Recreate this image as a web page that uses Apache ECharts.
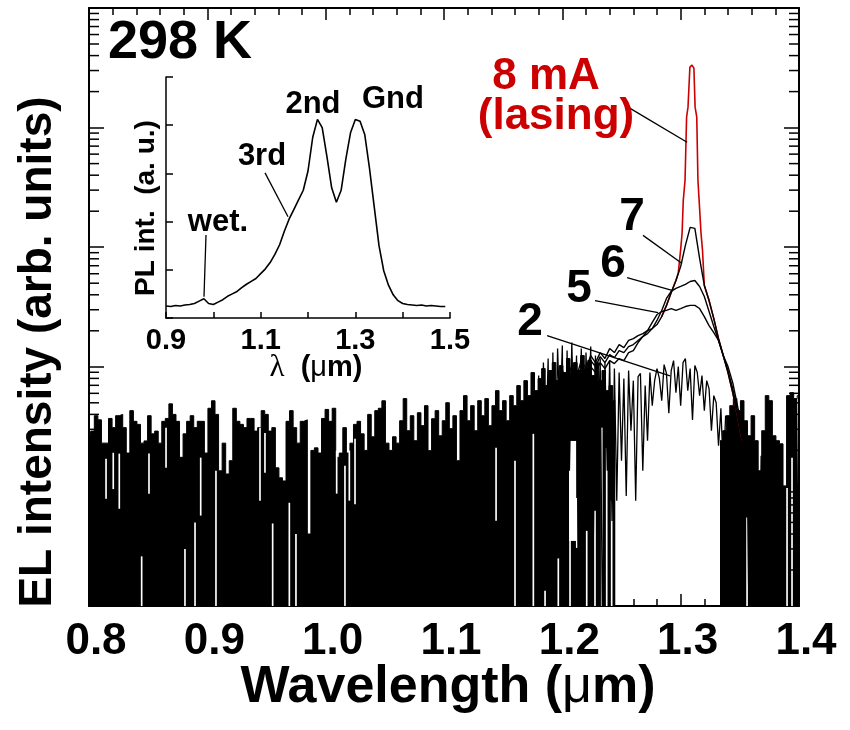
<!DOCTYPE html>
<html>
<head>
<meta charset="utf-8">
<script src="https://cdn.jsdelivr.net/npm/echarts@6/dist/echarts.min.js"></script>
<style>
html,body{margin:0;padding:0;background:#fff}
#chart{width:850px;height:730px}
</style>
</head>
<body>
<div id="chart"></div>
<script>
// ---- EL spectra, 298 K (log intensity, arb. units) ----
const xTicks = [0.8, 0.9, 1.0, 1.1, 1.2, 1.3, 1.4];

// detector noise floor shared by all drive currents (top of the noise band)
const floorStart = 0.800, floorStep = 0.003;
const floorLeft = [
  23,29,39,36,23,23,37,31,39,40,
  31,19,43,35,33,23,24,39,27.5,29,
  23,35,37,49,40,35,17.5,27.5,35,39,
  31,35,35,19,45,52,40,13.5,23,12.7,
  16.4,45,35,33,31,37,37,29,31,43,
  40,29,31,14.3,11.8,11.1,35,43,31,23,
  35,36,4,20,21,19,37,44,35,45,
  17.5,19,31,19,23,33,35,27.5,20,40,
  26,43,45,52,23,20,26,23,
  35.4,54.2,29.2,39,24.1,41.3,32.2,47.3,19.9,36.8,
  43,26.5,35.4,50.1,30.4,39,16.4,43,57.4,35.4,
  47.3,29.2,52.1,39,54.2,32.2,47.3,63.2,43,52.1,
  35.4,57.4,47.3,69.6,52.1,76.6,57.4,89.4,63.2,79.7,
  96.6,69.6,93,108.4,76.6,102.4,89.4,117.2,84.4,108.4,
  93,124.2,96.6,112.8,84.4,108.4,76.6,93,63.2,69.6,
  52.1
];
const floorRightStart = 1.334;
const floorRight = [
  24.1,29.2,39,47.3,54.2,43,52.1,35.4,26.5,39,
  24.1,13.5,29.2,57.4,52.1,26.5,24.1,22.7,10.1,57.4,
  60.8,54.2,57.4
];

// white gaps inside the noise band: centre wavelength, span (µm), lower and upper intensity
const slitWl   = [0.8144,0.8205,0.8256,0.8445,0.8507,0.8651,0.8811,0.8896,0.8944,0.9073,0.9445,0.9487,0.9552,0.9693,0.9749,1.0093,1.0163,1.0200,1.0248,1.1440,1.1600,1.1755,1.1854,1.1966,1.2065,1.2087,1.2122,1.2206,1.2276,1.2333,1.2375,1.2417,1.3561,1.3899,1.3941];
const slitSpan = [0.0014,0.0014,0.0014,0.0014,0.0014,0.0014,0.0014,0.0014,0.0014,0.0014,0.0014,0.0014,0.0014,0.0014,0.0014,0.0014,0.0014,0.0014,0.0014,0.0014,0.0014,0.0014,0.0014,0.0014,0.0014,0.0060,0.0014,0.0014,0.0014,0.0014,0.0014,0.0014,0.0014,0.0014,0.0014];
const slitLow  = [7.9,9.5,6.5,1,8.7,14.3,1,1,5.7,1,7.6,13,1,1,1,8.7,1,7.6,7.1,5.15,1,1,1,1,1,3.5,3.06,1,1,1,1,1,1,1,1];
const slitHigh = [17,19.1,18.8,2.6,18.8,31,3.0,5.0,17.4,13.5,31,28,4.9,7.3,4.0,19.9,14.9,19.9,25,21,16.4,27.5,1.34,2.5,14.3,24,8.0,4.25,6.25,31,21,7.6,5.5,9.7,17.4];

// 2 mA spectrum, 1.180 – 1.380 µm, 0.002 µm steps
const fineStart = 1.180, fineStep = 0.002;
const el2mA = [
  84.4,1.1,108.4,19.9,117.2,0.5,131.5,11.1,142,35.4,
  150.5,0.5,136.7,13.5,159.5,24.1,124.2,0.5,142,9.2,
  131.5,29.2,147.6,2.38,124.2,19.9,117.2,0.5,108.4,13.5,
  112.8,5.15,96.6,7.6,89.4,16.4,79.7,8.3,93,29.2,
  76.6,7.6,82.8,88,13.5,69.6,24.1,89.4,47.3,76.6,
  96.6,80,52.1,104.3,88,41,93,112.8,60.8,100.4,
  47.3,108.4,117.2,63.2,96.6,36,102.4,90,57.4,84.4,
  43,76.6,65.7,29.2,57.4,50.1,21.9,45,13.5,39,
  35.4,0.5,29.2,2.38,26.5,0.5,24.1,5.15,21.9,0.5,
  19.9,3.5,24.1,0.5,18,1.34,21.9,0.5,19.9,2.38,
  24.1
];

// 5, 6, 7 mA spectra, 1.180 – 1.380 µm, 0.004 µm steps
const curveStart = 1.180, curveStep = 0.004;
const el5mA = [
  43,57.4,47.3,65.7,54.2,73.8,60.8,82.8,68.3,89.4,
  79.7,100.4,89.4,108.4,96.6,112.8,106.4,117.2,112.8,131.5,
  136.7,159.5,179,201,235,273.6,290,296,307,296,
  307,319,326,326,307,263,221,193.3,166,124,
  100.4,73.8,47.3,29.2,19.1,13,8.8,6,4.1,2.8,
  1.9
];
const el6mA = [
  47.3,63.2,52.1,76.6,60.8,84.4,69.6,93,76.6,100.4,
  89.4,112.8,100.4,121.7,108.4,126.5,119.4,136.7,131.5,147.6,
  153.5,166,179,189.7,208.9,244,296,372.6,426.5,452,
  469.5,488,517,527,469,387,290,217,166,124,
  93,65.7,43,26.5,18,12.3,8.3,5.7,3.9,2.6,
  1.8
];
const el7mA = [
  52.1,69.6,57.4,84.4,68.3,93,76.6,102.4,82.8,112.8,
  96.6,124.2,108.4,131.5,117.2,142,131.5,153.5,144.8,166,
  172.2,182.5,189.7,201,208.9,225.6,263,326,418,527,
  690,1035,1465,1436,806,479,358,253,172,124,
  89.4,60.8,39,24.1,16.4,11.1,7.6,5.15,3.5,2.38,
  1.62
];
// lasing spectrum at 8 mA
const el8mAWl = [1.284,1.288,1.292,1.296,1.298,1.3000,1.3012,1.3022,1.3037,1.3050,1.3062,1.3078,1.3096,1.3112,1.3122,1.3136,1.3146,1.3156,1.3172,1.3184,1.320,1.324,1.328,1.332,1.336,1.340,1.344,1.348,1.352];
const el8mA   = [263,326,418,527,610,960,1306,2465,3625,12220,14830,32060,33340,31400,14830,12220,3625,2465,1306,960,479,358,253,172,124,89.4,60.8,39,24.1];

// inset: PL spectrum, 0.90 – 1.49 µm, 0.01 µm steps
const plStart = 0.90, plStep = 0.01;
const plInt = [
  0.25,0.24,0.26,0.25,0.27,0.28,0.30,0.35,0.40,0.30,
  0.28,0.33,0.38,0.45,0.50,0.55,0.63,0.70,0.76,0.82,
  0.92,1.02,1.15,1.32,1.52,1.80,2.05,2.25,2.45,2.65,
  3.05,3.75,4.12,3.95,3.35,2.70,2.40,2.65,3.30,3.85,
  4.12,4.08,3.80,3.10,2.30,1.50,0.98,0.68,0.48,0.36,
  0.30,0.28,0.27,0.26,0.27,0.25,0.26,0.25,0.24,0.24
];
const insetTicks = [0.9, 1.1, 1.3, 1.5];

// leader lines (data coordinates of their two ends)
const leaders = [
  { grid: 0, from: [1.2555, 14830], to: [1.3054, 7550] },
  { grid: 0, from: [1.2682, 1256],  to: [1.3012, 731] },
  { grid: 0, from: [1.2547, 558],   to: [1.2927, 435] },
  { grid: 0, from: [1.2276, 358],   to: [1.2809, 284] },
  { grid: 0, from: [1.1871, 182],   to: [1.2910, 84] },
  { grid: 1, from: [1.1092, 3.01],  to: [1.1578, 2.10] },
  { grid: 1, from: [0.9845, 1.72],  to: [0.9803, 0.44] }
];

const FONT = "'Liberation Sans', Arial, Helvetica, sans-serif";
const uniform = (start, step, arr) => arr.map((v, i) => [+(start + i * step).toFixed(4), v]);

const floorData = uniform(floorStart, floorStep, floorLeft)
  .concat([[1.2455, null], [1.3325, null]])
  .concat(uniform(floorRightStart, floorStep, floorRight));

const minorLog = [];
for (let k = 0; k < 5; k++) for (let m = 2; m <= 9; m++) minorLog.push(m * Math.pow(10, k));

const chart = echarts.init(document.getElementById('chart'), null, { renderer: 'canvas' });

const frameLine = { show: true, lineStyle: { color: '#000', width: 2 } };
const lineStyleOf = (color, w) => ({ color: color, width: w });

const option = {
  animation: false,
  backgroundColor: '#fff',
  grid: [
    { left: 89, top: 8, width: 710, height: 598 },
    { left: 166, top: 77, width: 284, height: 241 }
  ],
  xAxis: [
    {
      gridIndex: 0, type: 'value', min: 0.8, max: 1.4, interval: 0.1, position: 'bottom',
      axisLine: frameLine,
      axisTick: { inside: true, length: 12, lineStyle: { width: 1.5, color: '#000' } },
      minorTick: { show: true, splitNumber: 5, length: 7, lineStyle: { width: 1.5, color: '#000' } },
      splitLine: { show: false },
      axisLabel: {
        margin: 14, color: '#000', fontFamily: FONT, fontWeight: 'bold', fontSize: 44,
        padding: [0, 0, 0, 14],
        formatter: v => v.toFixed(1)
      }
    },
    {
      gridIndex: 0, type: 'value', min: 0.8, max: 1.4, interval: 0.1, position: 'top',
      axisLine: frameLine,
      axisTick: { inside: true, length: 12, lineStyle: { width: 1.5, color: '#000' } },
      minorTick: { show: true, splitNumber: 5, length: 7, lineStyle: { width: 1.5, color: '#000' } },
      splitLine: { show: false }, axisLabel: { show: false }
    },
    {
      gridIndex: 1, type: 'value', min: 0.9, max: 1.5, interval: 0.1,
      axisLine: { show: true, lineStyle: { color: '#000', width: 1.5 } },
      axisTick: { inside: true, length: 6, lineStyle: { width: 1.5, color: '#000' } },
      splitLine: { show: false },
      axisLabel: {
        margin: 8, color: '#000', fontFamily: FONT, fontWeight: 'bold', fontSize: 29,
        formatter: v => (insetTicks.some(t => Math.abs(t - v) < 1e-6) ? v.toFixed(1) : '')
      }
    }
  ],
  yAxis: [
    {
      gridIndex: 0, type: 'log', logBase: 10, min: 1, max: 100000, position: 'left',
      axisLine: frameLine,
      axisTick: { inside: true, length: 15, lineStyle: { width: 1.5, color: '#000' } },
      splitLine: { show: false }, axisLabel: { show: false }
    },
    {
      gridIndex: 0, type: 'log', logBase: 10, min: 1, max: 100000, position: 'right',
      axisLine: frameLine,
      axisTick: { inside: true, length: 15, lineStyle: { width: 1.5, color: '#000' } },
      splitLine: { show: false }, axisLabel: { show: false }
    },
    {
      gridIndex: 1, type: 'value', min: 0, max: 5, interval: 1,
      axisLine: { show: true, lineStyle: { color: '#000', width: 1.5 } },
      axisTick: { inside: true, length: 7, lineStyle: { width: 1.5, color: '#000' } },
      splitLine: { show: false }, axisLabel: { show: false }
    }
  ],
  series: [
    {
      name: 'noise floor', type: 'line', xAxisIndex: 0, yAxisIndex: 0,
      data: floorData, step: 'middle', showSymbol: false, connectNulls: false,
      lineStyle: lineStyleOf('#000', 1), areaStyle: { color: '#000', opacity: 1, origin: 'start' },
      z: 2
    },
    {
      // thin white gaps cut into the noise band
      name: 'gaps', type: 'custom', xAxisIndex: 0, yAxisIndex: 0, silent: true, z: 3,
      data: slitWl.map((w, i) => [w, slitLow[i], slitHigh[i], slitSpan[i]]),
      renderItem: (params, api) => {
        const w = api.value(0), half = api.value(3) / 2;
        const lo = api.coord([w - half, api.value(1)]);
        const hi = api.coord([w + half, api.value(2)]);
        return { type: 'rect', shape: { x: lo[0], y: hi[1], width: hi[0] - lo[0], height: lo[1] - hi[1] }, style: { fill: '#fff' } };
      }
    },
    {
      name: '8 mA', type: 'line', xAxisIndex: 0, yAxisIndex: 0,
      data: el8mAWl.map((w, i) => [w, el8mA[i]]), showSymbol: false,
      lineStyle: lineStyleOf('#cc0000', 1.6), z: 4
    },
    {
      name: '2 mA', type: 'line', xAxisIndex: 0, yAxisIndex: 0,
      data: uniform(fineStart, fineStep, el2mA), showSymbol: false,
      lineStyle: lineStyleOf('#000', 1.3), z: 5
    },
    {
      name: '5 mA', type: 'line', xAxisIndex: 0, yAxisIndex: 0,
      data: uniform(curveStart, curveStep, el5mA), showSymbol: false,
      lineStyle: lineStyleOf('#000', 1.4), z: 5
    },
    {
      name: '6 mA', type: 'line', xAxisIndex: 0, yAxisIndex: 0,
      data: uniform(curveStart, curveStep, el6mA), showSymbol: false,
      lineStyle: lineStyleOf('#000', 1.4), z: 5
    },
    {
      name: '7 mA', type: 'line', xAxisIndex: 0, yAxisIndex: 0,
      data: uniform(curveStart, curveStep, el7mA), showSymbol: false,
      lineStyle: lineStyleOf('#000', 1.4), z: 5
    },
    {
      // minor ticks of the logarithmic intensity axis, both sides of the frame
      name: 'log minor ticks', type: 'custom', xAxisIndex: 0, yAxisIndex: 0, silent: true, clip: false, z: 10,
      data: minorLog.map(v => [0.8, v]),
      renderItem: (params, api) => {
        const v = api.value(1);
        const l = api.coord([0.8, v]);
        const r = api.coord([1.4, v]);
        const st = { stroke: '#000', lineWidth: 1.5 };
        return {
          type: 'group', children: [
            { type: 'line', shape: { x1: l[0], y1: l[1], x2: l[0] + 10, y2: l[1] }, style: st },
            { type: 'line', shape: { x1: r[0] - 10, y1: r[1], x2: r[0], y2: r[1] }, style: st }
          ]
        };
      }
    },
    {
      name: 'PL', type: 'line', xAxisIndex: 2, yAxisIndex: 2,
      data: uniform(plStart, plStep, plInt), showSymbol: false,
      lineStyle: lineStyleOf('#000', 1.6), z: 6
    }
  ]
};
chart.setOption(option);

// ---- annotations ----
const txt = (x, y, text, size, fill) => ({
  type: 'text', x: x, y: y, z: 20,
  style: {
    text: text, fill: fill || '#000', font: 'bold ' + size + 'px ' + FONT,
    textAlign: 'center', textVerticalAlign: 'middle'
  }
});

const graphics = [];
leaders.forEach(ld => {
  const a = chart.convertToPixel({ gridIndex: ld.grid }, ld.from);
  const b = chart.convertToPixel({ gridIndex: ld.grid }, ld.to);
  graphics.push({ type: 'line', z: 20, shape: { x1: a[0], y1: a[1], x2: b[0], y2: b[1] }, style: { stroke: '#000', lineWidth: 1.3 } });
});

graphics.push(
  txt(180, 43, '298 K', 54),
  txt(546, 77, '8 mA', 44, '#cc0000'),
  txt(556, 117, '(lasing)', 44, '#cc0000'),
  txt(632, 217, '7', 46),
  txt(613, 264, '6', 46),
  txt(579, 289, '5', 46),
  txt(530, 322, '2', 46),
  txt(313, 104, '2nd', 31),
  txt(393, 99, 'Gnd', 31),
  txt(262, 156, '3rd', 31),
  txt(218, 222, 'wet.', 31),
  {
    type: 'text', x: 316, y: 368, z: 20,
    style: {
      text: '{l|λ}  ({m|μ}m)', fill: '#000', font: 'bold 29px ' + FONT,
      textAlign: 'center', textVerticalAlign: 'middle',
      rich: {
        l: { fontFamily: "'Liberation Serif', 'DejaVu Serif', serif", fontWeight: 'normal', fontSize: 31, fill: '#000' },
        m: { fontFamily: FONT, fontWeight: 'normal', fontSize: 29, fill: '#000' }
      }
    }
  },
  {
    type: 'text', x: 146, y: 208, z: 20, rotation: Math.PI / 2,
    style: { text: 'PL int.  (a. u.)', fill: '#000', font: 'bold 28px ' + FONT, textAlign: 'center', textVerticalAlign: 'middle' }
  },
  {
    type: 'text', x: 448, y: 688, z: 20,
    style: {
      text: 'Wavelength ({m|μ}m)', fill: '#000', font: 'bold 52px ' + FONT,
      textAlign: 'center', textVerticalAlign: 'middle',
      rich: { m: { fontFamily: FONT, fontWeight: 'normal', fontSize: 52, fill: '#000' } }
    }
  },
  {
    type: 'text', x: 38, y: 352, z: 20, rotation: Math.PI / 2,
    style: { text: 'EL intensity (arb. units)', fill: '#000', font: 'bold 46px ' + FONT, textAlign: 'center', textVerticalAlign: 'middle' }
  }
);
chart.setOption({ graphic: graphics });
</script>
</body>
</html>
